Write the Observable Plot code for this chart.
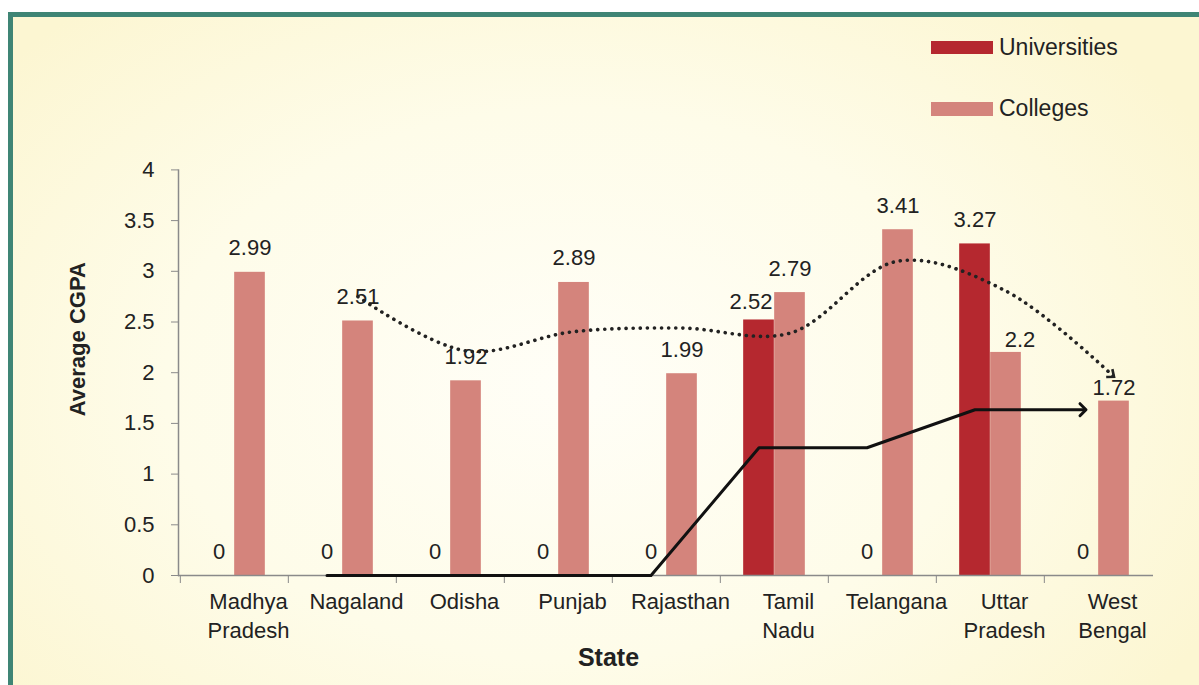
<!DOCTYPE html>
<html>
<head>
<meta charset="utf-8">
<script src="https://cdn.jsdelivr.net/npm/d3@7"></script>
<script src="https://cdn.jsdelivr.net/npm/@observablehq/plot@0.6"></script>
<style>
  html, body { margin: 0; padding: 0; overflow: hidden; background: #ffffff; }
  #root { position: relative; width: 1199px; height: 685px; overflow: hidden;
          font-family: "Liberation Sans", Arial, Helvetica, sans-serif; color: #222; }
  #frame { position: absolute; left: 8px; top: 12px; width: 1191px; height: 673px; box-sizing: border-box;
           border-top: 5px solid #3f8575; border-left: 5px solid #3f8575;
           background: radial-gradient(ellipse 62% 75% at 47% 55%, #fffef7 0%, #fefce9 55%, #fcf6d2 100%); }
  #legend { position: absolute; left: 0; top: 0; width: 1199px; height: 130px; }
  .item { position: absolute; left: 931px; display: flex; align-items: center; font-size: 23px; color: #222; }
  .sw { width: 62px; height: 13px; margin-right: 6px; }
  #chart { position: absolute; left: 0; top: 130px; }
</style>
</head>
<body>
<div id="root">
  <div id="frame"></div>
  <div id="legend"></div>
  <div id="chart"></div>
</div>
<script>
// ---- data ----
const states = ["Madhya Pradesh", "Nagaland", "Odisha", "Punjab", "Rajasthan", "Tamil Nadu", "Telangana", "Uttar Pradesh", "West Bengal"];
const stateLabels = ["Madhya\nPradesh", "Nagaland", "Odisha", "Punjab", "Rajasthan", "Tamil\nNadu", "Telangana", "Uttar\nPradesh", "West\nBengal"];
const universities = [0, 0, 0, 0, 0, 2.52, 0, 3.27, 0];
const colleges = [2.99, 2.51, 1.92, 2.89, 1.99, 2.79, 3.41, 2.2, 1.72];
// trend lines (2-period moving averages as drawn), Nagaland .. West Bengal
const trendStates = ["Nagaland", "Odisha", "Punjab", "Rajasthan", "Tamil Nadu", "Telangana", "Uttar Pradesh", "West Bengal"];
const universitiesTrend = [0, 0, 0, 0, 1.26, 1.26, 1.635, 1.635];
const collegesTrend = [2.75, 2.215, 2.405, 2.44, 2.39, 3.10, 2.805, 1.96];
const yTicks = [0, 0.5, 1, 1.5, 2, 2.5, 3, 3.5, 4];
const seriesNames = ["Universities", "Colleges"];
const seriesColors = ["#b5282f", "#d4847c"];

// ---- style: value labels that the original nudged away from the trend lines ([dx, dy] in px) ----
const labelNudge = {
  "universities|Tamil Nadu": [-8, -7],
  "colleges|Uttar Pradesh": [14, -1],
  "colleges|West Bengal": [0, -2]
};

// ---- tables ----
const rows = states.map((s, i) => ({state: s, universities: universities[i], colleges: colleges[i]}));
const trendRows = trendStates.map((s, i) => ({state: s, u: universitiesTrend[i], c: collegesTrend[i]}));
const lastTrend = trendRows.slice(-1);

// ---- layout ----
const W = 1199, H = 555;
const mL = 178, mR = 46, mT = 39.4, mB = 110;
const bw = (W - mL - mR) / states.length;
const barW = 31;
const axisGray = "#8a8a8a";
const font = 22;

// open arrow head (chevron) pointing right, used at the end of the dotted trend line
const chevron = {draw(ctx, size) { ctx.moveTo(-6, -5); ctx.lineTo(0, 0); ctx.lineTo(-6, 5); }};

function valueLabels(key, side) {
  const marks = [];
  const base = rows.filter(d => !labelNudge[key + "|" + d.state]);
  marks.push(Plot.text(base, {x: "state", y: key, text: d => String(d[key]), dx: side * barW / 2, dy: -17, lineAnchor: "bottom", fontSize: font, fill: "#222"}));
  rows.forEach(d => {
    const n = labelNudge[key + "|" + d.state];
    if (n) marks.push(Plot.text([d], {x: "state", y: key, text: d => String(d[key]), dx: side * barW / 2 + n[0], dy: n[1] - 4, lineAnchor: "bottom", fontSize: font, fill: "#222"}));
  });
  return marks;
}

const chart = Plot.plot({
  width: W, height: H,
  marginLeft: mL, marginRight: mR, marginTop: mT, marginBottom: mB,
  style: {background: "transparent", fontFamily: "\"Liberation Sans\", Arial, sans-serif", fontSize: font + "px", color: "#222", overflow: "visible"},
  x: {type: "band", domain: states, padding: 0},
  y: {domain: [0, 4]},
  marks: [
    Plot.barY(rows, {x: "state", y: "universities", fill: seriesColors[0], insetLeft: bw / 2 - barW, insetRight: bw / 2}),
    Plot.barY(rows, {x: "state", y: "colleges", fill: seriesColors[1], insetLeft: bw / 2, insetRight: bw / 2 - barW}),
    Plot.ruleY([0], {stroke: axisGray, strokeWidth: 1.5}),
    Plot.frame({anchor: "left", stroke: axisGray, strokeWidth: 1.5}),
    Plot.axisY({ticks: yTicks, tickSize: 7, tickPadding: 17, tickFormat: d => String(d), stroke: axisGray, fontSize: font, label: null}),
    Plot.axisX({tickSize: 8, tickFormat: () => "", dx: -bw / 2, stroke: axisGray, label: null}),
    Plot.axisX({tickSize: 0, tickPadding: 13, dx: 14, tickFormat: d => stateLabels[states.indexOf(d)], lineHeight: 1.32, fontSize: font, label: null}),
    ...valueLabels("universities", -1),
    ...valueLabels("colleges", 1),
    Plot.line(trendRows, {x: "state", y: "c", dx: barW / 2, curve: "catmull-rom", stroke: "#222", strokeWidth: 3.6, strokeDasharray: "0.1,7", strokeLinecap: "round"}),
    Plot.dot(lastTrend, {x: "state", y: "c", dx: barW / 2, symbol: chevron, rotate: 38, fill: "none", stroke: "#222", strokeWidth: 2.6, r: 5}),
    Plot.line(trendRows, {x: "state", y: "u", dx: -barW / 2, curve: "linear", stroke: "#111", strokeWidth: 3, markerEnd: "arrow"}),
    Plot.text(["State"], {frameAnchor: "bottom", dx: -57.5, dy: 90, fontSize: 25, fontWeight: "bold", fill: "#222"}),
    Plot.text(["Average CGPA"], {frameAnchor: "left", textAnchor: "middle", rotate: -90, dx: -100.5, dy: -33.5, fontSize: 22, fontWeight: "bold", fill: "#222"})
  ]
});
document.getElementById("chart").appendChild(chart);

// ---- legend (HTML, above the SVG) ----
const legend = document.getElementById("legend");
const legendTops = [34, 95];
seriesNames.forEach((name, i) => {
  const it = document.createElement("div");
  it.className = "item";
  it.style.top = legendTops[i] + "px";
  const sw = document.createElement("div");
  sw.className = "sw";
  sw.style.background = seriesColors[i];
  sw.style.height = (i === 0 ? 13 : 14) + "px";
  const tx = document.createElement("span");
  tx.textContent = name;
  it.appendChild(sw);
  it.appendChild(tx);
  legend.appendChild(it);
});
</script>
</body>
</html>
